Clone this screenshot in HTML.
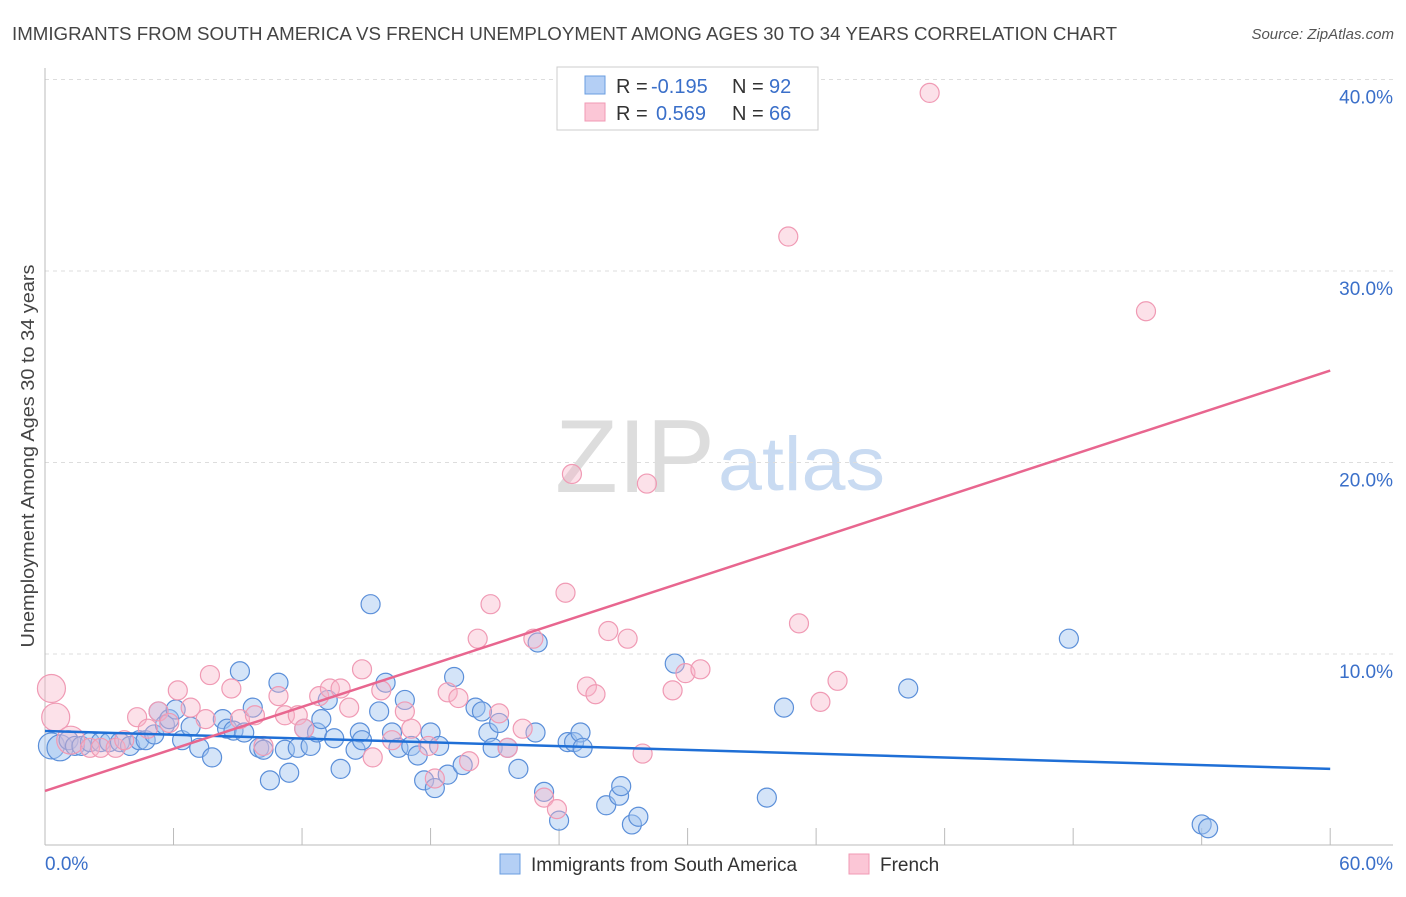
<!DOCTYPE html>
<html><head><meta charset="utf-8"><style>
body{margin:0;background:#fff;font-family:"Liberation Sans",sans-serif}
svg text{font-family:"Liberation Sans",sans-serif}
</style></head><body>
<svg id="chart" width="1406" height="892">
<text x="12" y="40" font-size="18" fill="#444" textLength="1105" lengthAdjust="spacingAndGlyphs">IMMIGRANTS FROM SOUTH AMERICA VS FRENCH UNEMPLOYMENT AMONG AGES 30 TO 34 YEARS CORRELATION CHART</text>
<text x="1394" y="39" font-size="15" fill="#555" text-anchor="end" font-style="italic">Source: ZipAtlas.com</text>
<text x="555" y="492" font-size="104" fill="#ddd" textLength="160" lengthAdjust="spacingAndGlyphs" font-family="Liberation Serif">ZIP</text>
<text x="718" y="490" font-size="76" fill="#c9dbf2" textLength="167" lengthAdjust="spacingAndGlyphs">atlas</text>
<text x="34" y="456" font-size="18" fill="#444" text-anchor="middle" textLength="383" lengthAdjust="spacingAndGlyphs" transform="rotate(-90 34 456)">Unemployment Among Ages 30 to 34 years</text>
<g id="grid"></g><g id="pts"></g><g id="lines"></g>
<g>
<rect x="557" y="67" width="261" height="63" fill="#fff" stroke="#ccc"/>
<rect x="585" y="76" width="20" height="18" fill="#b4cff5" stroke="#6a9de0"/>
<rect x="585" y="103" width="20" height="18" fill="#fbc6d6" stroke="#f09ab4"/>
<text x="616" y="93" font-size="20" fill="#333">R =</text>
<text x="651" y="93" font-size="20" fill="#3a6fc9">-0.195</text>
<text x="732" y="93" font-size="20" fill="#333">N =</text>
<text x="769" y="93" font-size="20" fill="#3a6fc9">92</text>
<text x="616" y="120" font-size="20" fill="#333">R =</text>
<text x="656" y="120" font-size="20" fill="#3a6fc9">0.569</text>
<text x="732" y="120" font-size="20" fill="#333">N =</text>
<text x="769" y="120" font-size="20" fill="#3a6fc9">66</text>
</g>
<g>
<rect x="500" y="854" width="20" height="20" fill="#b4cff5" stroke="#6a9de0"/>
<text x="531" y="871" font-size="19" fill="#333">Immigrants from South America</text>
<rect x="849" y="854" width="20" height="20" fill="#fbc6d6" stroke="#f09ab4"/>
<text x="880" y="871" font-size="19" fill="#333">French</text>
</g>
<text x="45" y="870" font-size="19" fill="#3a6fc9">0.0%</text>
<text x="1393" y="870" font-size="19" fill="#3a6fc9" text-anchor="end">60.0%</text>
</svg>
<script>
const blueX=[0.3,0.7,1.1,1.4,1.7,2.1,2.6,3.0,3.5,3.97,4.4,4.7,5.1,5.3,5.6,5.8,6.1,6.4,6.8,7.2,7.8,8.3,8.5,8.8,9.1,9.3,9.7,10.0,10.2,10.5,10.9,11.2,11.4,11.8,12.1,12.4,12.7,12.9,13.2,13.5,13.8,14.5,14.7,14.8,15.2,15.6,15.9,16.2,16.5,16.8,17.1,17.4,17.7,18.0,18.2,18.4,18.8,19.1,19.5,20.1,20.4,20.7,20.9,21.2,21.6,22.1,22.9,23.0,23.3,24.0,24.4,24.7,25.0,25.1,26.2,26.8,26.9,27.4,27.7,29.4,34.5,33.7,40.3,47.8,54.0,54.3];
const blueY=[5.2,5.1,5.5,5.2,5.2,5.4,5.4,5.4,5.4,5.2,5.5,5.5,5.8,7.0,6.3,6.6,7.1,5.5,6.2,5.1,4.6,6.6,6.1,6.0,9.1,5.9,7.2,5.1,5.0,3.4,8.5,5.0,3.8,5.1,6.1,5.2,5.9,6.6,7.6,5.6,4.0,5.0,5.9,5.5,12.6,7.0,8.5,5.9,5.1,7.6,5.2,4.7,3.4,5.9,3.0,5.2,3.7,8.8,4.2,7.2,7.0,5.9,5.1,6.4,5.1,4.0,5.9,10.6,2.8,1.3,5.4,5.4,5.9,5.1,2.1,2.6,3.1,1.1,1.5,9.5,7.2,2.5,8.2,10.8,1.1,0.9];
const pinkX=[0.3,0.5,1.2,2.1,2.6,3.3,3.7,4.3,4.8,5.3,5.8,6.2,6.8,7.5,7.7,8.7,9.1,9.8,10.2,10.9,11.2,11.8,12.1,12.8,13.3,13.8,14.2,14.8,15.3,15.7,16.2,16.8,17.1,17.9,18.2,18.8,19.3,19.8,20.2,20.8,21.2,21.6,22.3,22.8,23.3,23.9,24.3,24.6,25.3,25.7,26.3,27.2,27.9,28.1,29.3,29.9,30.6,34.7,35.2,36.2,37.0,41.3,51.4];
const pinkY=[8.2,6.7,5.5,5.1,5.1,5.1,5.5,6.7,6.1,7.0,6.4,8.1,7.2,6.6,8.9,8.2,6.6,6.8,5.2,7.8,6.8,6.8,6.1,7.8,8.2,8.2,7.2,9.2,4.6,8.1,5.5,7.0,6.1,5.2,3.5,8.0,7.7,4.4,10.8,12.6,6.9,5.1,6.1,10.8,2.5,1.9,13.2,19.4,8.3,7.9,11.2,10.8,4.8,18.9,8.1,9.0,9.2,31.8,11.6,7.5,8.6,39.3,27.9];
const blueTrend=[5.98,4.0];
const pinkTrend=[2.85,24.8];
const yTicks=[10,20,30,40];
const xTicks=[0,6,12,18,24,30,36,42,48,54,60];
const NS="http://www.w3.org/2000/svg";
const X=v=>45+v*21.42, Y=v=>845.5-v*19.15;
function mk(t,a,p){const e=document.createElementNS(NS,t);for(const k in a)e.setAttribute(k,a[k]);p.appendChild(e);return e;}
const g=document.getElementById('grid');
yTicks.forEach(t=>{
 const l=mk('line',{x1:45,x2:1393,y1:Y(t),y2:Y(t),stroke:'#ddd','stroke-dasharray':'4,4'},g);
 
 
 const tx=mk('text',{x:1393,y:Y(t)+24,'font-size':19,fill:'#3a6fc9','text-anchor':'end'},g);
 tx.textContent=t.toFixed(1)+'%';
 
 
});
const ax=mk('line',{x1:45,x2:1393,y1:845,y2:845,stroke:'#bbb'},g);


const ay=mk('line',{x1:45,x2:45,y1:68,y2:845,stroke:'#bbb'},g);


xTicks.forEach(t=>{
 const l=mk('line',{x1:X(t),x2:X(t),y1:828,y2:845,stroke:'#bbb'},g);
 
 
});
const p=document.getElementById('pts');
blueX.forEach((x,i)=>{
 const c=mk('circle',{cx:X(x),cy:Y(blueY[i]),r:i<2?13:9.5,fill:'rgba(160,195,240,0.45)',stroke:'#5b8fd9','stroke-width':1.2},p);
 
 
});
pinkX.forEach((x,i)=>{
 const c=mk('circle',{cx:X(x),cy:Y(pinkY[i]),r:i<3?14:9.5,fill:'rgba(248,180,200,0.4)',stroke:'#f09ab4','stroke-width':1.2},p);
 
 
});
const L=document.getElementById('lines');
const bl=mk('line',{x1:X(0),x2:X(60),y1:Y(blueTrend[0]),y2:Y(blueTrend[1]),stroke:'#1f6fd6','stroke-width':2.5},L);


const pl=mk('line',{x1:X(0),x2:X(60),y1:Y(pinkTrend[0]),y2:Y(pinkTrend[1]),stroke:'#e8668f','stroke-width':2.5},L);


</script>
</body></html>
